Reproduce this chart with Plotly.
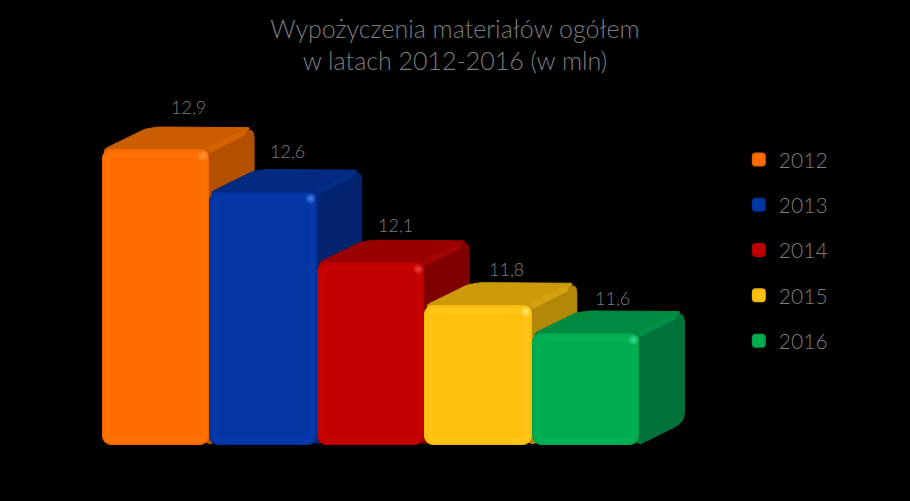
import plotly.graph_objects as go

# ---- data ----
YEARS = [2012, 2013, 2014, 2015, 2016]
VALUES = [12.9, 12.6, 12.1, 11.8, 11.6]
LABELS = ["12,9", "12,6", "12,1", "11,8", "11,6"]
TITLE = "Wypożyczenia materiałów ogółem<br>w latach 2012-2016 (w mln)"

# ---- styles ----
FRONT = ["#FF6D00", "#0335A3", "#C00000", "#FFC10E", "#00AC50"]
RIM = ["#FF7206", "#0739AA", "#C50303", "#FFC517", "#03B054"]
OUTER = ["#F06700", "#03319A", "#B40000", "#F5B80C", "#00A24B"]
TOP = ["#CC5C00", "#022A80", "#990000", "#CC9A0A", "#008A40"]
SIDE = ["#B35000", "#02246E", "#800000", "#B38708", "#00733A"]
RIDGE = ["#D46200", "#032E88", "#A20303", "#D4A20E", "#008F47"]
SPOT = ["#FF9A46", "#4C88F0", "#F04040", "#FFE878", "#40E098"]
TEXT = "#7d7d7d"
FONT = "Lato Light, Lato, sans-serif"

W, H = 910, 501
PX_X = 107.6      # pixels per year
PX_Y = 141.5      # pixels per value unit
LEFT = 102        # left edge of the first bar, px
FLOOR_PX = 445    # baseline, px
BASE = 11.6 - (FLOOR_PX - 334) / PX_Y
XMIN = YEARS[0] - 0.5 - LEFT / PX_X
XMAX = XMIN + W / PX_X
YMAX = BASE + FLOOR_PX / PX_Y
YMIN = YMAX - H / PX_Y
DX = 45 / PX_X    # extrusion, data units
DY = 23 / PX_Y
BAR_W = 0.99


def rounded(points):
    """Round a polygon of (x, y, radius_px) in data units; returns closed x, y lists."""
    xs, ys = [], []
    n = len(points)
    for i in range(n):
        px, py, _ = points[i - 1]
        cx, cy, rad = points[i]
        nx, ny, _ = points[(i + 1) % n]
        a = ((px - cx) * PX_X, (py - cy) * PX_Y)
        b = ((nx - cx) * PX_X, (ny - cy) * PX_Y)
        la = (a[0] ** 2 + a[1] ** 2) ** 0.5
        lb = (b[0] ** 2 + b[1] ** 2) ** 0.5
        ra, rb = min(rad, la / 2) / la, min(rad, lb / 2) / lb
        for k in range(7):
            t = k / 6
            u = (1 - t) ** 2 * ra
            v = t ** 2 * rb
            xs.append(cx + (px - cx) * u + (nx - cx) * v)
            ys.append(cy + (py - cy) * u + (ny - cy) * v)
    return xs + xs[:1], ys + ys[:1]


fig = go.Figure()
ux, uy = 1 / PX_X, 1 / PX_Y

# extruded faces, lower layer, back-to-front
for i, (yr, v) in enumerate(zip(YEARS, VALUES)):
    l, r = yr - BAR_W / 2, yr + BAR_W / 2
    side_poly = [(r - 6 * ux, v - 6 * uy, 0), (r + DX, v + DY, 10), (r + DX, BASE + DY, 10),
                 (r, BASE, 5), (r - 6 * ux, BASE + 6 * uy, 0)]
    top_poly = [(l + 6 * ux, v - 6 * uy, 0), (l, v, 5), (l + DX, v + DY, 14), (r + DX, v + DY, 10),
                (r - 6 * ux, v - 6 * uy, 0)]
    for poly, col in ((side_poly, SIDE[i]), (top_poly, TOP[i])):
        x, y = rounded(poly)
        fig.add_trace(go.Scatter(x=x, y=y, mode="lines", fill="toself", fillcolor=col,
                                 line=dict(color=col, width=1), showlegend=False,
                                 hoverinfo="skip", xaxis="x", yaxis="y"))
    # ridge between the top and the side face
    fig.add_trace(go.Scatter(x=[r, r + DX - 9 * ux], y=[v, v + DY - 5 * uy], mode="lines",
                             line=dict(color=RIDGE[i], width=6), showlegend=False,
                             hoverinfo="skip", xaxis="x", yaxis="y"))

# front faces, upper layer
for i, (yr, v) in enumerate(zip(YEARS, VALUES)):
    fig.add_trace(go.Bar(x=[yr], y=[v - BASE], base=BASE, width=BAR_W, name=str(yr),
                         legendgroup=str(yr), xaxis="x2", yaxis="y2",
                         marker=dict(color=FRONT[i], cornerradius=9,
                                     line=dict(color=OUTER[i], width=1)),
                         hoverinfo="skip"))

# soft bevel just inside each front face
for i, (yr, v) in enumerate(zip(YEARS, VALUES)):
    l, r = yr - BAR_W / 2 + 5 * ux, yr + BAR_W / 2 - 5 * ux
    t, b = v - 5 * uy, BASE + 5 * uy
    x, y = rounded([(l, t, 5), (r, t, 5), (r, b, 5), (l, b, 5)])
    fig.add_trace(go.Scatter(x=x, y=y, mode="lines", line=dict(color=RIM[i], width=5),
                             showlegend=False, hoverinfo="skip", xaxis="x2", yaxis="y2"))

# corner highlights
fig.add_trace(go.Scatter(
    x=[yr + BAR_W / 2 - 6 * ux for yr in YEARS],
    y=[v - 6 * uy for v in VALUES],
    mode="markers", showlegend=False, hoverinfo="skip", xaxis="x2", yaxis="y2",
    marker=dict(size=11, color=RIM, line=dict(width=0),
                gradient=dict(type="radial", color=SPOT))))

# value labels
NUDGE_X = [33, 24, 24, 28, 26]   # px from bar centre
NUDGE_Y = [43, 42, 38, 37, 36]   # px above the front top
for i, (yr, v, s) in enumerate(zip(YEARS, VALUES, LABELS)):
    fig.add_annotation(x=yr + NUDGE_X[i] * ux, y=v + NUDGE_Y[i] * uy, text=s, showarrow=False,
                       xref="x2", yref="y2", font=dict(family=FONT, size=18, color=TEXT))

fig.update_layout(
    width=W, height=H, autosize=False,
    margin=dict(l=0, r=0, t=0, b=0),
    paper_bgcolor="#000000", plot_bgcolor="#000000",
    barmode="overlay", bargap=0,
    showlegend=True,
    title=dict(text=TITLE, x=0.5, xanchor="center", xref="paper", y=0.925, yanchor="top", yref="container",
               font=dict(family=FONT, size=25, color=TEXT)),
    legend=dict(x=0.824, y=0.722, xanchor="left", yanchor="top", bgcolor="rgba(0,0,0,0)",
                font=dict(family=FONT, size=21, color=TEXT), tracegroupgap=15,
                indentation=-11, itemsizing="constant", itemwidth=30, traceorder="grouped"),
    xaxis=dict(range=[XMIN, XMAX], visible=False, fixedrange=True),
    yaxis=dict(range=[YMIN, YMAX], visible=False, fixedrange=True),
    xaxis2=dict(range=[XMIN, XMAX], visible=False, fixedrange=True, overlaying="x"),
    yaxis2=dict(range=[YMIN, YMAX], visible=False, fixedrange=True, overlaying="y"),
)

fig.write_html("out.html", config=dict(displayModeBar=False),
               post_script="document.body.style.margin='0';document.body.style.background='#000';")
